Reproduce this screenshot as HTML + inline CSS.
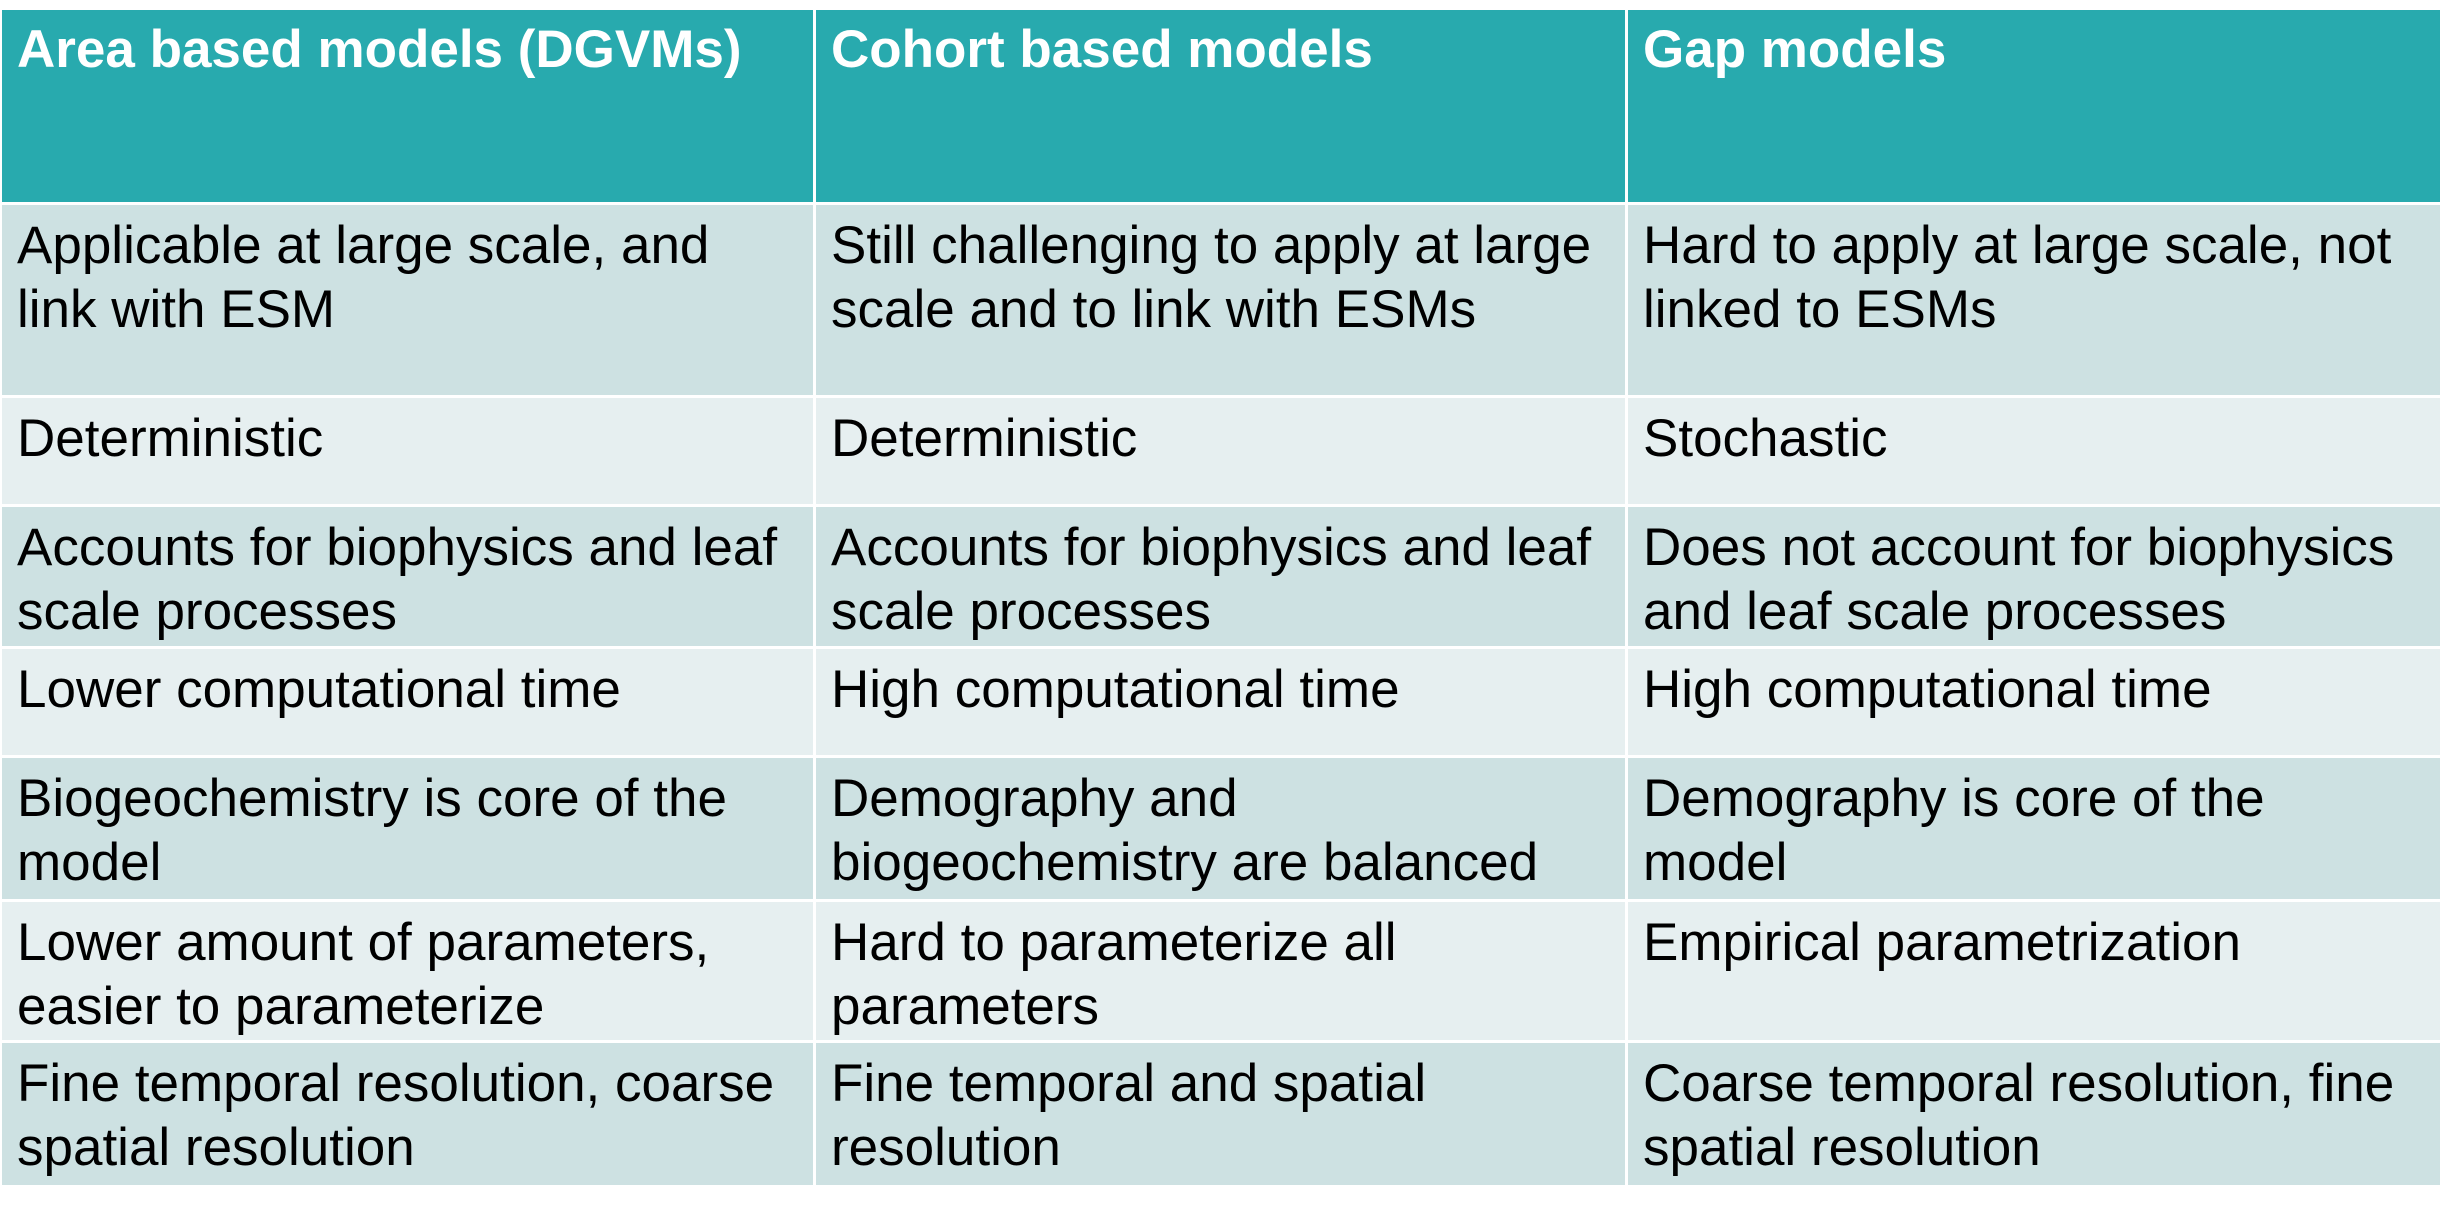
<!DOCTYPE html>
<html><head><meta charset="utf-8"><style>
html,body{margin:0;padding:0;background:#fff;width:2445px;height:1211px;overflow:hidden}
.c{position:absolute;box-sizing:border-box;padding:9px 0 0 15px;font-family:"Liberation Sans",Arial,sans-serif;font-size:53px;line-height:64px;color:#000;white-space:nowrap}
.h{background:#28AAAE;color:#fff;font-weight:bold;padding-top:8px}
.o{background:#CDE1E2}
.e{background:#E6EFF0}
</style></head><body>
<div id="t"></div>
<script>
const cols=[[2,813],[816,1625],[1628,2440]];
const rows=[[10,202],[205,395],[398,504],[507,646],[649,755],[758,899],[902,1040],[1043,1185]];
const headers=["Area based models (DGVMs)","Cohort based models","Gap models"];
const body=[
["Applicable at large scale, and<br>link with ESM","Still challenging to apply at large<br>scale and to link with ESMs","Hard to apply at large scale, not<br>linked to ESMs"],
["Deterministic","Deterministic","Stochastic"],
["Accounts for biophysics and leaf<br>scale processes","Accounts for biophysics and leaf<br>scale processes","Does not account for biophysics<br>and leaf scale processes"],
["Lower computational time","High computational time","High computational time"],
["Biogeochemistry is core of the<br>model","Demography and<br>biogeochemistry are balanced","Demography is core of the<br>model"],
["Lower amount of parameters,<br>easier to parameterize","Hard to parameterize all<br>parameters","Empirical parametrization"],
["Fine temporal resolution, coarse<br>spatial resolution","Fine temporal and spatial<br>resolution","Coarse temporal resolution, fine<br>spatial resolution"]];
const t=document.getElementById('t');
for(let r=0;r<rows.length;r++){for(let c=0;c<3;c++){
 const d=document.createElement('div');
 d.className='c '+(r==0?'h':(r%2?'o':'e'));
 d.style.left=cols[c][0]+'px';d.style.width=(cols[c][1]-cols[c][0])+'px';
 d.style.top=rows[r][0]+'px';d.style.height=(rows[r][1]-rows[r][0])+'px';
 d.innerHTML=r==0?headers[c]:body[r-1][c];
 
 
 t.appendChild(d);
}}
</script>
</body></html>
